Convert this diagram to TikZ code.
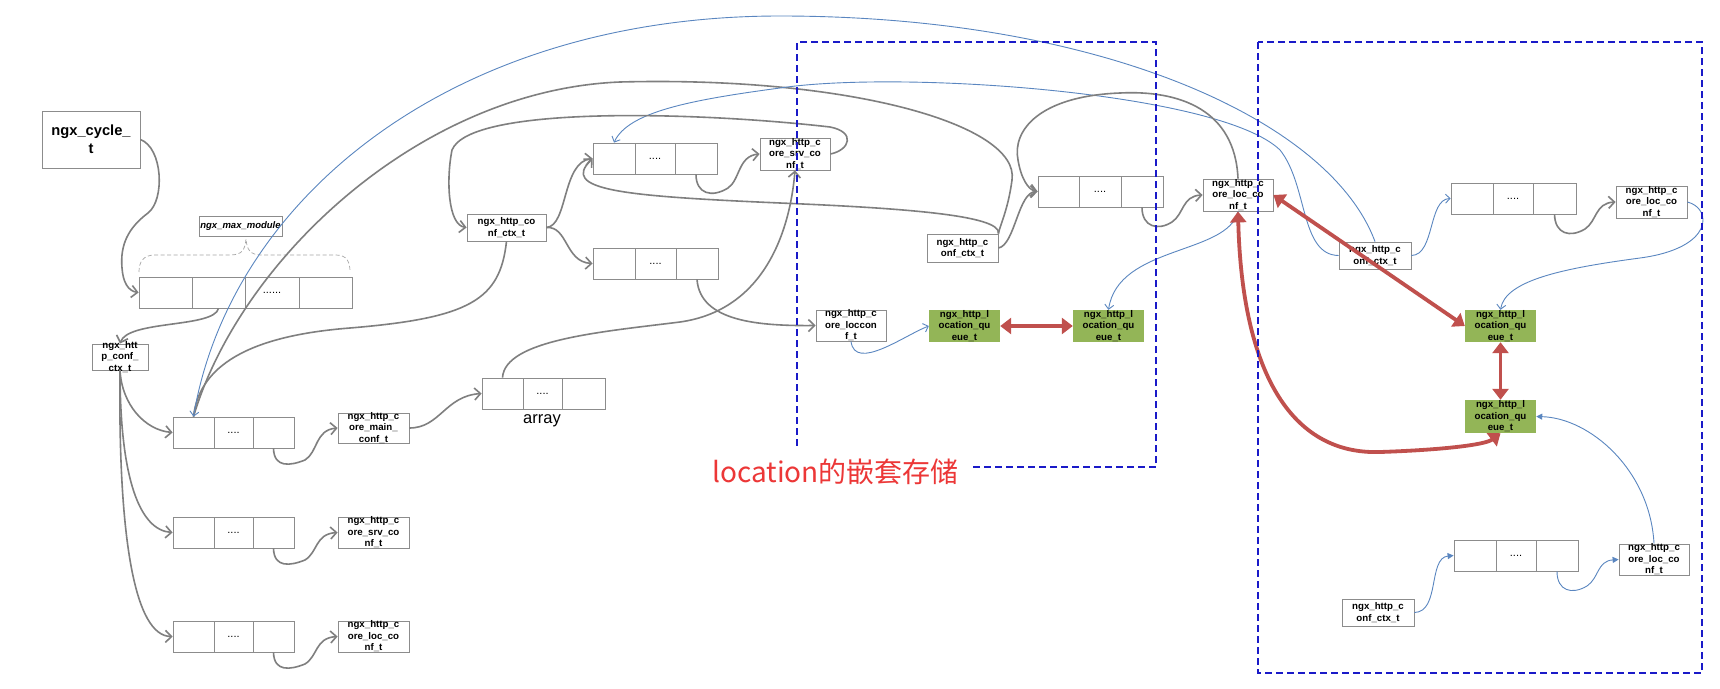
\documentclass[tikz,border=0pt]{standalone}
\usepackage{fontspec}
\setmainfont{Liberation Sans}
\newfontfamily\cjkfont{Noto Sans CJK SC}
\usetikzlibrary{arrows.meta}
\definecolor{boxgray}{HTML}{8C8C8C}
\definecolor{congray}{HTML}{7F7F7F}
\definecolor{blc}{HTML}{5A86C0}
\definecolor{rarrow}{HTML}{C0504D}
\definecolor{qgreen}{HTML}{93B557}
\definecolor{dblue}{HTML}{1A1AC8}
\definecolor{ttlred}{HTML}{EC3737}
\tikzset{
 tb/.style={draw=boxgray, fill=white, line width=0.8pt, inner sep=0pt},
 qb/.style={fill=qgreen, inner sep=0pt},
 txt/.style={font=\bfseries\fontsize{9.7}{11.5}\selectfont, align=center, inner sep=0pt},
 cellst/.style={draw=boxgray, fill=white, line width=0.8pt, inner sep=0pt, font=\fontsize{11}{11}\selectfont},
 gline/.style={draw=congray, line width=1.6pt},
 garr/.style={gline, -{Straight Barb[length=6pt,width=12pt]}},
 blueln/.style={draw=blc, line width=0.9pt},
 barr/.style={blueln, -{Straight Barb[length=4.5pt,width=9pt]}},
 bfarr/.style={blueln, -{Triangle[length=6pt,width=6pt]}},
 rarr/.style={draw=rarrow, line width=3.8pt, {Triangle[length=11pt,width=16pt]}-{Triangle[length=11pt,width=16pt]}},
 dbox/.style={draw=dblue, line width=1.2pt, dash pattern=on 7pt off 4pt},
 bracedash/.style={draw=gray!70, line width=0.7pt, dash pattern=on 4pt off 2.5pt},
}
\newcommand\cellsrow[7]{%
 \node[cellst, minimum width={(#3)-(#2)}, minimum height={(#7)-(#6)}] (#1-1) at ({((#2)+(#3))/2},{((#6)+(#7))/2}) {};
 \node[cellst, minimum width={(#4)-(#3)}, minimum height={(#7)-(#6)}] (#1-2) at ({((#3)+(#4))/2},{((#6)+(#7))/2}) {....};
 \node[cellst, minimum width={(#5)-(#4)}, minimum height={(#7)-(#6)}] (#1-3) at ({((#4)+(#5))/2},{((#6)+(#7))/2}) {};}
\newcommand\tbox[7]{%
 \node[#2, minimum width={(#5)-(#3)}, minimum height={(#6)-(#4)}, label={[txt]center:{#7}}] (#1) at ({((#3)+(#5))/2},{((#4)+(#6))/2}) {};}
\begin{document}
\begin{tikzpicture}[x=1pt,y=-1pt]
\useasboundingbox[fill=white] (0,0) rectangle (1720,688);

% ---------- left column ----------
\node[tb, minimum width=98, minimum height=57, font=\bfseries\fontsize{14.7}{18}\selectfont, align=center] (cycle) at (91,139.5) {ngx\_cycle\_\\t};
\node[tb, line width=0.6pt, minimum width=83, minimum height=20, font=\bfseries\itshape\fontsize{9.5}{11}\selectfont] (maxmod) at (240.5,226) {ngx\_max\_module};
\draw[bracedash] (139,272) .. controls (139,262) and (143,255) .. (155,255) -- (230,255) .. controls (242,255) and (245,250) .. (246,239) .. controls (247,250) and (250,255) .. (262,255) -- (336,255) .. controls (347,255) and (350,262) .. (350,272);
\node[cellst, minimum width=53, minimum height=31] (top-1) at (165.5,292.5) {};
\node[cellst, minimum width=53, minimum height=31] (top-2) at (218.5,292.5) {};
\node[cellst, minimum width=54, minimum height=31] (top-3) at (272,292.5) {......};
\node[cellst, minimum width=53, minimum height=31] (top-4) at (325.5,292.5) {};

\tbox{lctx}{tb}{92}{344}{148}{370}{ngx\_htt\\p\_conf\_\\ctx\_t}

\cellsrow{r1}{173}{214}{253}{294}{417}{448}
\cellsrow{r2}{173}{214}{253}{294}{517}{548}
\cellsrow{r3}{173}{214}{253}{294}{621}{652}
\tbox{mainL}{tb}{338}{413}{409}{443}{ngx\_http\_c\\ore\_main\_\\conf\_t}
\tbox{srvL}{tb}{338}{517}{409}{548}{ngx\_http\_c\\ore\_srv\_co\\nf\_t}
\tbox{locL}{tb}{338}{621}{409}{652}{ngx\_http\_c\\ore\_loc\_co\\nf\_t}

\cellsrow{arrC}{482}{523}{562}{605}{378}{409}
\node[font=\fontsize{16.5}{18}\selectfont, inner sep=0pt, fill=white] (arrlbl) at (542,421) {array};

% ---------- middle ----------
\tbox{mctx}{tb}{467}{214}{546}{241}{ngx\_http\_co\\nf\_ctx\_t}
\cellsrow{arrA}{593}{635}{675}{717}{143}{174}
\cellsrow{arrB}{593}{635}{676}{718}{248}{279}
\tbox{srvM}{tb}{760}{138}{830}{170}{ngx\_http\_c\\ore\_srv\_co\\nf\_t}
\tbox{loccon}{tb}{816}{310}{886}{341}{ngx\_http\_c\\ore\_loccon\\f\_t}
\tbox{cctx2}{tb}{927}{234}{998}{262}{ngx\_http\_c\\onf\_ctx\_t}
\cellsrow{arrD}{1038}{1079}{1121}{1163}{176}{207}
\tbox{locM}{tb}{1203}{179}{1273}{211}{ngx\_http\_c\\ore\_loc\_co\\nf\_t}
\tbox{Q1}{qb}{929}{310}{1000}{342}{ngx\_http\_l\\ocation\_qu\\eue\_t}
\tbox{Q2}{qb}{1073}{310}{1144}{342}{ngx\_http\_l\\ocation\_qu\\eue\_t}

% ---------- right ----------
\tbox{cctxR1}{tb}{1339}{242}{1411}{269}{ngx\_http\_c\\onf\_ctx\_t}
\cellsrow{arrR1}{1451}{1493}{1533}{1576}{183}{214}
\tbox{locR1}{tb}{1616}{186}{1687}{218}{ngx\_http\_c\\ore\_loc\_co\\nf\_t}
\tbox{QR1}{qb}{1465}{310}{1536}{342}{ngx\_http\_l\\ocation\_qu\\eue\_t}
\tbox{QR2}{qb}{1465}{400}{1536}{433}{ngx\_http\_l\\ocation\_qu\\eue\_t}
\cellsrow{arrR2}{1454}{1496}{1536}{1578}{540}{571}
\tbox{locR2}{tb}{1619}{544}{1689}{575}{ngx\_http\_c\\ore\_loc\_co\\nf\_t}
\tbox{cctxR2}{tb}{1342}{599}{1414}{626}{ngx\_http\_c\\onf\_ctx\_t}

\node[font=\cjkfont\fontsize{28}{30}\selectfont, text=ttlred, anchor=base west, inner sep=0pt] (title) at (712,482) {location的嵌套存储};

% ---------- connectors: left ----------
\draw[garr] (cycle.east) .. controls (163,148) and (165,200) .. (148,213) .. controls (128,228) and (120,245) .. (122,268) .. controls (123,282) and (128,291) .. (top-1.west);
\draw[garr] (top-2.south) .. controls (214,328) and (128,320) .. (lctx.north);
\draw[garr] (lctx.south) .. controls (122,405) and (145,430) .. (r1-1.west);
\draw[garr] (lctx.south) .. controls (120,480) and (140,530) .. (r2-1.west);
\draw[garr] (lctx.south) .. controls (118,540) and (135,636) .. (r3-1.west);
\draw[garr] (r1-3.south) .. controls (274,468) and (290,466) .. (305,460) .. controls (318,452) and (315,430) .. (mainL.west);
\draw[garr] (r2-3.south) .. controls (274,568) and (290,566) .. (305,560) .. controls (318,552) and (315,534) .. (srvL.west);
\draw[garr] (r3-3.south) .. controls (274,672) and (290,670) .. (305,664) .. controls (318,656) and (315,638) .. (locL.west);
\draw[garr] (mainL.east) .. controls (440,428) and (445,396) .. (arrC-1.west);
\draw[garr] (arrC-1.north) .. controls (505,340) and (600,332) .. (680,322) .. controls (765,310) and (790,230) .. (srvM.south);

% ---------- long curves ----------
\draw[gline] (r1-1.north) .. controls (240,260) and (420,90) .. (620,82) .. controls (850,76) and (1020,125) .. (1012,180) .. controls (1008,210) and (1000,225) .. (cctx2.north east);
\draw[gline] (r1-1.north) .. controls (200,360) and (260,335) .. (350,328) .. controls (470,318) and (500,300) .. (mctx.south);
\draw[barr] (cctxR1.north) .. controls (1330,120) and (1100,16) .. (780,16) .. controls (450,16) and (230,200) .. (r1-1.north);
\draw[barr] (cctxR1.west) .. controls (1300,255) and (1308,185) .. (1280,150) .. controls (1220,92) and (900,70) .. (780,88) .. controls (690,100) and (628,112) .. (arrA-1.north);

% ---------- middle connectors ----------
\draw[garr] (srvM.east) .. controls (850,150) and (856,132) .. (830,127) .. controls (700,112) and (470,105) .. (452,150) .. controls (446,180) and (448,225) .. (mctx.west);
\draw[garr] (mctx.east) .. controls (568,226) and (562,162) .. (arrA-1.west);
\draw[garr] (mctx.east) .. controls (568,226) and (565,262) .. (arrB-1.west);
\draw[garr] (cctx2.north east) .. controls (1002,215) and (900,208) .. (780,203) .. controls (620,196) and (560,190) .. (arrA-1.west);
\draw[garr] (cctx2.east) .. controls (1015,245) and (1018,192) .. (arrD-1.west);
\draw[garr] (locM.north) .. controls (1235,110) and (1180,90) .. (1120,93) .. controls (1040,96) and (1012,130) .. (1018,160) .. controls (1021,178) and (1028,190) .. (arrD-1.west);
\draw[garr] (arrA-3.south) .. controls (696,194) and (712,198) .. (728,188) .. controls (740,180) and (738,156) .. (srvM.west);
\draw[garr] (arrD-3.south) .. controls (1142,227) and (1158,231) .. (1172,222) .. controls (1184,214) and (1182,196) .. (locM.west);
\draw[garr] (arrB-3.south) .. controls (700,322) and (760,326) .. (loccon.west);
\draw[barr] (loccon.south) .. controls (855,372) and (905,335) .. (Q1.west);
\draw[barr] (locM.south) .. controls (1228,255) and (1118,245) .. (Q2.north);
\draw[rarr] (Q1.east) -- (Q2.west);

% ---------- right connectors ----------
\draw[barr] (cctxR1.east) .. controls (1435,255) and (1428,199) .. (arrR1-1.west);
\draw[garr] (arrR1-3.south) .. controls (1555,234) and (1570,238) .. (1585,229) .. controls (1597,221) and (1595,203) .. (locR1.west);
\draw[barr] (locR1.east) .. controls (1712,208) and (1715,248) .. (1640,258) .. controls (1565,268) and (1505,280) .. (QR1.north);
\draw[rarr] (locM.east) -- (QR1.west);
\draw[rarr] (QR1.south) -- (QR2.north);
\draw[rarr] (locM.south) .. controls (1242,370) and (1290,455) .. (1380,452) .. controls (1440,450) and (1485,445) .. (QR2.south);
\draw[bfarr] (locR2.north) .. controls (1650,470) and (1590,418) .. (QR2.east);
\draw[bfarr] (cctxR2.east) .. controls (1440,612) and (1428,558) .. (arrR2-1.west);
\draw[bfarr] (arrR2-3.south) .. controls (1557,591) and (1572,595) .. (1587,586) .. controls (1599,578) and (1597,561) .. (locR2.west);

% ---------- dashed frames ----------
\draw[dbox] (973,467) -- (1156,467) -- (1156,42) -- (797,42) -- (797,448);
\draw[dbox] (1258,42) rectangle (1702,673);
\end{tikzpicture}
\end{document}
